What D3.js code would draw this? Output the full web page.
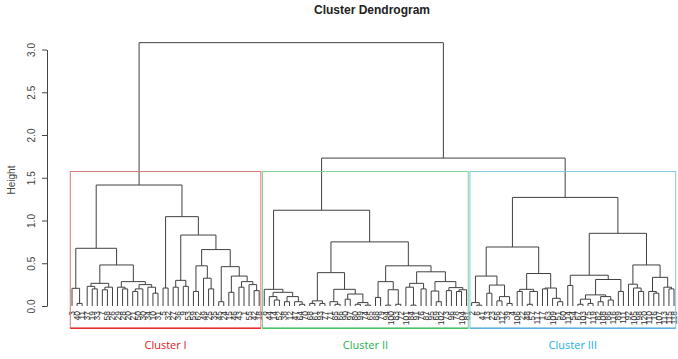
<!DOCTYPE html>
<html>
<head>
<meta charset="utf-8">
<script src="https://cdn.jsdelivr.net/npm/d3@7"></script>
<style>
  body { margin: 0; background: #fff; }
  svg { display: block; }
</style>
</head>
<body>
<div id="chart-area"></div>
<script>
// leaf labels, left to right, per cluster
var labelsI = [3, 40, 11, 37, 19, 33, 7, 58, 26, 29, 28, 20, 21, 50, 30, 34, 10, 31, 5, 32,
  27, 36, 9, 53, 59, 62, 49, 25, 35, 45, 24, 15, 46, 43, 1, 55, 42, 18];
var labelsII = [8, 44, 14, 52, 38, 12, 47, 64, 70, 68, 61, 93, 77, 71, 85, 66, 90, 97, 80, 99,
  74, 65, 88, 79, 94, 100, 83, 72, 101, 84, 91, 76, 87, 95, 69, 102, 73, 96, 78, 104, 81];
var labelsIII = [2, 6, 41, 13, 23, 56, 112, 39, 4, 106, 22, 48, 57, 117, 17, 63, 109, 51, 60, 114,
  54, 67, 103, 75, 119, 82, 108, 86, 116, 89, 111, 92, 105, 98, 120, 110, 16, 107, 113, 115, 118];

// merges inside each cluster: [height, left, right], numbers = leaf index in the cluster
var treeI = [1.415,
  [0.675,
    [0.207, 0, [0.03, 1, 2]],
    [0.48,
      [0.265, [0.23, 3, [0.20, 4, 5]], [0.22, [0.19, 6, 7], 8]],
      [0.285, [0.22, 9, [0.20, 10, 11]], [0.25, [0.20, [0.17, 12, 13], 14], [0.22, 15, [0.15, 16, 17]]]]]],
  [1.045,
    [0.21, 18, 19],
    [0.83,
      [0.30, [0.22, 20, 21], [0.23, 22, 23]],
      [0.66,
        [0.47, [0.17, 24, 25], [0.325, 26, [0.20, 27, 28]]],
        [0.46, [0.05, 29, 30], [0.35, [0.16, 31, 32], [0.285, [0.22, 33, 34], [0.25, 35, [0.18, 36, 37]]]]]]]]];

var treeII = [1.12,
  [0.195, 0, [0.16, [0.11, 1, [0.07, 2, 3]], [0.11, [0.05, 4, 5], [0.05, 6, [0.02, 7, 8]]]]],
  [0.75,
    [0.39,
      [0.06, [0.03, 9, 10], [0.03, 11, 12]],
      [0.195, [0.05, 13, [0.02, 14, 15]], [0.14, [0.08, 16, 17], [0.04, [0.02, 18, 19], [0.01, 20, 21]]]]],
    [0.47,
      [0.285, [0.10, 22, 23], [0.19, [0.01, 24, 25], [0.02, 26, 27]]],
      [0.40,
        [0.265, [0.22, 28, [0.01, 29, 30]], [0.20, 31, 32]],
        [0.285, [0.175, 33, [0.05, 34, 35]], [0.215, [0.18, 36, 37], [0.19, [0.17, 38, 39], 40]]]]]]];

var treeIII = [1.27,
  [0.69,
    [0.35, [0.04, 0, [0.01, 1, 2]], [0.245, [0.15, 3, 4], [0.11, [0.06, 5, 6], [0.03, 7, 8]]]],
    [0.38, [0.195, [0.17, 9, 10], [0.17, [0.02, 11, 12], 13]], [0.21, [0.20, 14, 15], [0.09, 16, [0.05, 17, 18]]]]],
  [0.85,
    [0.36, [0.24, 19, 20], [0.31, [0.13, [0.08, [0.02, 21, 22], [0.03, 23, 24]], [0.11, [0.05, 25, 26], [0.07, 27, 28]]], [0.17, 29, 30]]],
    [0.48, [0.255, 31, [0.21, 32, [0.17, 33, 34]]], [0.335, [0.17, 35, [0.15, 36, 37]], [0.22, 38, [0.20, 39, 40]]]]]];

// top merges: root (I + rest), then II + III
var topHeights = [3.08, 1.73];
var clusterNames = ["Cluster I", "Cluster II", "Cluster III"];
var yTicks = [0, 0.5, 1, 1.5, 2, 2.5, 3];

var width = 678, height = 359;
var lineColors = ["#d9777b", "#86cf96", "#86c9e0"];
var baseColors = ["#e3302c", "#49c06a", "#5fb0e6"];
var textColors = ["#e0201c", "#27b04f", "#20aef0"];

var svg = d3.select("#chart-area").append("svg")
    .attr("width", width)
    .attr("height", height)
    .style("background", "#fff");

var allLabels = labelsI.concat(labelsII, labelsIII).map(String);
var x = d3.scalePoint().domain(allLabels).range([72, 674]);
var y = d3.scaleLinear().domain([0, 3]).range([306, 49.5]);
var step = x.step();

function toNode(t, labels) {
    if (!Array.isArray(t)) return { label: String(labels[t]), height: 0 };
    return { height: t[0], children: [toNode(t[1], labels), toNode(t[2], labels)] };
}

var tree = {
    height: topHeights[0],
    children: [
        toNode(treeI, labelsI),
        { height: topHeights[1], children: [toNode(treeII, labelsII), toNode(treeIII, labelsIII)] }
    ]
};

var root = d3.hierarchy(tree);
root.eachAfter(function(n) {
    n.px = n.children ? d3.mean(n.children, c => c.px) : x(n.data.label);
});

// links
svg.append("g")
    .selectAll("path")
    .data(root.descendants().filter(n => n.children))
    .enter().append("path")
    .attr("fill", "none")
    .attr("stroke", "#404040")
    .attr("stroke-width", 1)
    .attr("d", function(n) {
        var a = n.children[0], b = n.children[1];
        return "M" + a.px + "," + y(a.data.height) +
            "V" + y(n.data.height) +
            "H" + b.px +
            "V" + y(b.data.height);
    });

// leaf labels
svg.append("g")
    .selectAll("text")
    .data(root.leaves())
    .enter().append("text")
    .attr("transform", d => `translate(${d.px},311) rotate(-90)`)
    .attr("text-anchor", "end")
    .attr("dy", "0.35em")
    .attr("font-family", "Liberation Sans, Arial, sans-serif")
    .attr("font-size", "8.5px")
    .attr("fill", "#333")
    .text(d => d.data.label);

// cluster boxes (cut between the 2nd and 3rd highest merge)
var cut = (topHeights[1] + treeI[0]) / 2;
var groups = [labelsI, labelsII, labelsIII];
groups.forEach(function(labels, i) {
    var x0 = x(String(labels[0])) - 0.34 * step;
    var x1 = x(String(labels[labels.length - 1])) + 0.33 * step;
    var yb = y(-0.26);
    svg.append("rect")
        .attr("x", x0)
        .attr("y", y(cut))
        .attr("width", x1 - x0)
        .attr("height", yb - y(cut))
        .attr("fill", "none")
        .attr("stroke", lineColors[i])
        .attr("stroke-width", 1);
    svg.append("line")
        .attr("x1", x0).attr("x2", x1)
        .attr("y1", yb).attr("y2", yb)
        .attr("stroke", baseColors[i])
        .attr("stroke-width", 1.5);
    svg.append("text")
        .attr("x", (x0 + x1) / 2)
        .attr("y", 349)
        .attr("text-anchor", "middle")
        .attr("font-family", "Open Sans, Liberation Sans, sans-serif")
        .attr("font-size", "11px")
        .attr("fill", textColors[i])
        .text(clusterNames[i]);
});

// y axis
var yAxis = d3.axisLeft(y).tickValues(yTicks).tickFormat(d3.format(".1f")).tickSize(5).tickSizeOuter(0);
var axisG = svg.append("g")
    .attr("transform", "translate(47,0)")
    .call(yAxis);
axisG.select(".domain").attr("stroke", "#444");
axisG.selectAll(".tick line").attr("stroke", "#444");
axisG.selectAll(".tick text")
    .attr("transform", "rotate(-90)")
    .attr("x", 0)
    .attr("y", -12)
    .attr("dy", 0)
    .attr("text-anchor", "middle")
    .attr("font-family", "Liberation Sans, Arial, sans-serif")
    .attr("font-size", "10px")
    .attr("fill", "#444");

svg.append("text")
    .attr("transform", "translate(15,180) rotate(-90)")
    .attr("text-anchor", "middle")
    .attr("font-family", "Liberation Sans, Arial, sans-serif")
    .attr("font-size", "10px")
    .attr("fill", "#444")
    .text("Height");

// title
svg.append("text")
    .attr("x", 372)
    .attr("y", 14)
    .attr("text-anchor", "middle")
    .attr("font-family", "Liberation Sans, Arial, sans-serif")
    .attr("font-weight", "bold")
    .attr("font-size", "12px")
    .attr("fill", "#222")
    .text("Cluster Dendrogram");
</script>
</body>
</html>
